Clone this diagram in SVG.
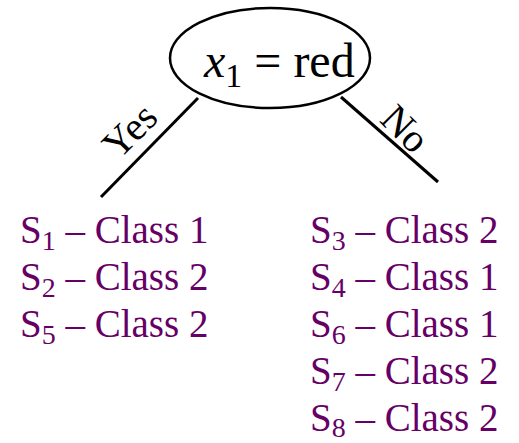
<svg xmlns="http://www.w3.org/2000/svg" width="519" height="443" viewBox="0 0 519 443">
<style>
.t{font-family:"Liberation Serif","Times New Roman",serif;}
.leaf{fill:#660066;font-size:39px;}
.edge{stroke:#000;stroke-width:3;fill:none;}
</style>
<rect width="519" height="443" fill="#fff"/>
<g id="connectors">
<line class="edge" x1="198" y1="98" x2="101" y2="197"/>
<line class="edge" x1="341" y1="97" x2="438" y2="182"/>
<text class="t" font-size="40" transform="translate(130,131) rotate(-45)" text-anchor="middle" dy="13">Yes</text>
<text class="t" font-size="40" transform="translate(405,129) rotate(45)" text-anchor="middle" dy="13">No</text>
</g>
<g id="root">
<ellipse cx="270" cy="58" rx="100" ry="50" fill="#fff" stroke="#000" stroke-width="2.5"/>
<text class="t" font-size="48" x="204" y="77"><tspan font-style="italic">x</tspan><tspan font-size="34" dy="10">1</tspan><tspan dy="-10"> = red</tspan></text>
</g>
<g id="leaf-yes">
<text class="t leaf" x="20" y="243">S<tspan font-size="28" dy="7">1</tspan><tspan dy="-7"> – Class 1</tspan></text>
<text class="t leaf" x="20" y="290">S<tspan font-size="28" dy="7">2</tspan><tspan dy="-7"> – Class 2</tspan></text>
<text class="t leaf" x="20" y="337">S<tspan font-size="28" dy="7">5</tspan><tspan dy="-7"> – Class 2</tspan></text>
</g>
<g id="leaf-no">
<text class="t leaf" x="310" y="243">S<tspan font-size="28" dy="7">3</tspan><tspan dy="-7"> – Class 2</tspan></text>
<text class="t leaf" x="310" y="290">S<tspan font-size="28" dy="7">4</tspan><tspan dy="-7"> – Class 1</tspan></text>
<text class="t leaf" x="310" y="337">S<tspan font-size="28" dy="7">6</tspan><tspan dy="-7"> – Class 1</tspan></text>
<text class="t leaf" x="310" y="384">S<tspan font-size="28" dy="7">7</tspan><tspan dy="-7"> – Class 2</tspan></text>
<text class="t leaf" x="310" y="431">S<tspan font-size="28" dy="6">8</tspan><tspan dy="-6"> – Class 2</tspan></text>
</g>
</svg>
